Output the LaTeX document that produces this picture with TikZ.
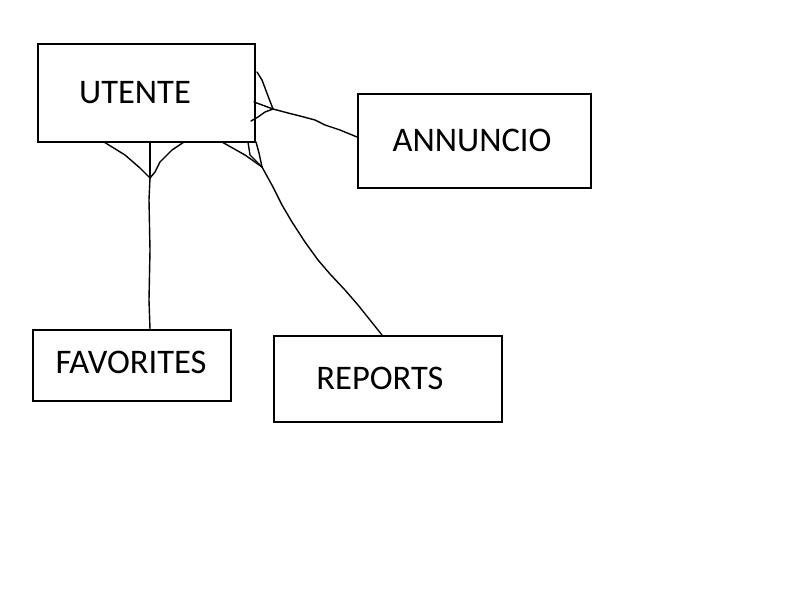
\documentclass[tikz,border=0pt]{standalone}
\usepackage{fontspec}
\setmainfont{Carlito}
\begin{document}
\begin{tikzpicture}[x=1pt,y=-1pt,
  entity/.style={draw,line width=1.6pt,inner sep=0pt,anchor=north west},
  lbl/.style={font=\fontsize{34.5}{38}\selectfont,inner sep=0pt},
  conn/.style={line width=1.4pt,line join=round,line cap=round}]
\useasboundingbox (0,0) rectangle (800,600);
\fill[white] (0,0) rectangle (800,600);
% boxes
\node[entity,minimum width=217pt,minimum height=98pt] (utente) at (37,43) {};
\node[entity,minimum width=233pt,minimum height=94pt] (annuncio) at (357,93) {};
\node[entity,minimum width=198pt,minimum height=71pt] (fav) at (32,329) {};
\node[entity,minimum width=228pt,minimum height=86pt] (rep) at (273,335) {};
% labels
\node[lbl] (tU) at (135,93) {UTENTE};
\node[lbl] (tA) at (472,140) {ANNUNCIO};
\node[lbl] (tF) at (131,362) {FAVORITES};
\node[lbl] (tR) at (380,378) {REPORTS};
% junction points
\coordinate (jF) at (150,178);
\coordinate (jA) at (273,109);
\coordinate (jR) at (262,167);
% FAVORITES connector
\draw[conn] (fav.north -| jF) -- (149,300) -- (150,250) -- (149,200) -- (jF);
\draw[conn] (jF) -- (150,142);
\draw[conn] (jF) -- (140,168) -- (125,155) -- (104,142);
\draw[conn] (jF) -- (155,172) -- (160,162) -- (172,150) -- (184,142);
% ANNUNCIO connector
\draw[conn] (annuncio.west |- 0,137) -- (340,130) -- (325,125) -- (315,120) -- (300,116) -- (288,113) -- (jA);
\draw[conn] (jA) -- (268,96) -- (262,80) -- (257,72);
\draw[conn] (jA) -- (254,102);
\draw[conn] (jA) -- (265,112) -- (258,117) -- (251,121);
% REPORTS connector
\draw[conn] (rep.north -| 382,0) -- (370,320) -- (358,305) -- (345,290) -- (330,274) -- (318,260) -- (305,242) -- (292,222) -- (282,205) -- (273,187) -- (jR);
\draw[conn] (jR) -- (245,155) -- (222,142);
\draw[conn] (jR) -- (250,155) -- (248,142);
\draw[conn] (jR) -- (259,153) -- (256,142);
\end{tikzpicture}
\end{document}
